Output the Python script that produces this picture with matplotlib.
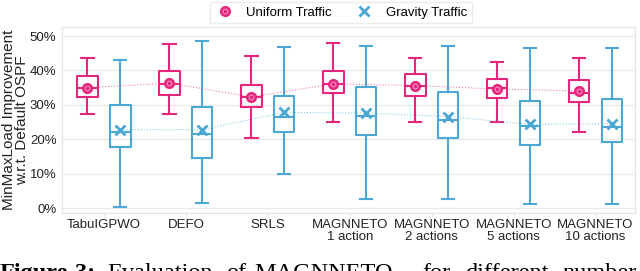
import matplotlib
matplotlib.use("Agg")
import numpy as np
import matplotlib.pyplot as plt
from matplotlib.lines import Line2D
from matplotlib.legend_handler import HandlerTuple

plt.rcParams['font.family'] = ['Liberation Sans', 'DejaVu Sans']

# categories
labels = ['TabuIGPWO', 'DEFO', 'SRLS', 'MAGNNETO\n1 action', 'MAGNNETO\n2 actions',
          'MAGNNETO\n5 actions', 'MAGNNETO\n10 actions']

# uniform traffic: whisker low, q1, median, q3, whisker high, mean  (%)
uni_lo = [27.4, 27.3, 20.5, 24.9, 24.9, 24.9, 22.2]
uni_q1 = [32.2, 33.0, 29.4, 33.3, 32.6, 32.0, 30.7]
uni_med = [35.0, 36.0, 32.3, 36.2, 35.5, 34.8, 33.3]
uni_q3 = [38.3, 39.7, 35.9, 39.8, 38.9, 37.4, 37.3]
uni_hi = [43.5, 47.8, 44.1, 48.0, 43.6, 42.5, 43.5]
uni_mean = [35.0, 36.3, 32.3, 36.1, 35.6, 34.6, 34.0]

# gravity traffic
gra_lo = [0.3, 1.6, 9.8, 2.6, 2.6, 1.2, 1.2]
gra_q1 = [17.8, 14.4, 22.2, 21.2, 20.4, 18.4, 19.2]
gra_med = [22.1, 21.5, 26.4, 26.8, 25.5, 23.9, 23.7]
gra_q3 = [30.0, 29.3, 32.5, 35.3, 33.8, 31.0, 31.7]
gra_hi = [42.9, 48.6, 46.8, 47.0, 47.0, 46.6, 46.6]
gra_mean = [22.8, 22.8, 27.8, 27.6, 26.6, 24.3, 24.5]

# caption words (text is justified in the source, so words are placed one by one)
cap_words = ['Figure', '3:', 'Evaluation', 'of', 'MAGNNETO', 'for', 'different', 'number']
cap_x = [0, 75, 107, 226, 254, 422, 465, 562]
cap_bold = [True, True, False, False, False, False, False, False]

pink = '#e5267c'
blue = '#4ba7d3'

fig = plt.figure(figsize=(6.4, 2.71), dpi=100)
ax = fig.add_axes([0.097, 0.214, 0.895, 0.686])

x = np.arange(len(labels))
off = 0.2
w = 0.25


def stats(lo, q1, med, q3, hi):
    return [dict(whislo=a, q1=b, med=c, q3=d, whishi=e, fliers=[])
            for a, b, c, d, e in zip(lo, q1, med, q3, hi)]


for st, pos, c in [(stats(uni_lo, uni_q1, uni_med, uni_q3, uni_hi), x - off, pink),
                   (stats(gra_lo, gra_q1, gra_med, gra_q3, gra_hi), x + off, blue)]:
    ax.bxp(st, positions=pos, widths=w, showfliers=False, manage_ticks=False,
           boxprops=dict(color=c, linewidth=1.5),
           whiskerprops=dict(color=c, linewidth=1.5),
           capprops=dict(color=c, linewidth=1.5),
           medianprops=dict(color=c, linewidth=1.5),
           capwidths=0.15)

# means + dotted connecting lines
ax.plot(x - off, uni_mean, ':', color=pink, lw=0.8, alpha=0.6, zorder=3)
ax.plot(x + off, gra_mean, ':', color=blue, lw=0.8, alpha=0.6, zorder=3)
ax.plot(x - off, uni_mean, 'o', color=pink, ms=7, zorder=4)
ax.plot(x - off, uni_mean, 'o', mfc='none', mec='#f590bd', mew=0.8, ms=3.4, zorder=5)
ax.plot(x + off, gra_mean, 'x', color=blue, ms=7, mew=2, zorder=4)

ax.set_xlim(-0.51, 6.48)
ax.set_ylim(-1.45, 52.6)
ax.set_yticks([0, 10, 20, 30, 40, 50])
ax.set_yticklabels(['0%', '10%', '20%', '30%', '40%', '50%'])
ax.set_xticks(x)
ax.set_xticklabels(labels, linespacing=1.0)
ax.tick_params(axis='both', labelsize=9.5, colors='#e0e0e0', labelcolor='#222222')
ax.tick_params(axis='x', length=3, pad=1.5)
ax.tick_params(axis='y', length=0, pad=4)
ax.grid(axis='y', color='#ebebeb', lw=1)
ax.set_axisbelow(True)
for s in ax.spines.values():
    s.set_color('#e6e6e6')
    s.set_linewidth(1)
ax.set_ylabel('MinMaxLoad Improvement\nw.r.t. Default OSPF', fontsize=11,
              color='#222222', linespacing=0.95, va='center')
ax.yaxis.set_label_coords(-0.081, 0.5)

h_uni = (Line2D([], [], ls='', marker='o', color=pink, ms=7),
         Line2D([], [], ls='', marker='o', mfc='none', mec='#f590bd', mew=0.8, ms=3.4))
h_gra = Line2D([], [], ls='', marker='x', color=blue, ms=7, mew=2)
fig.legend([h_uni, h_gra], ['Uniform Traffic', 'Gravity Traffic'],
           handler_map={tuple: HandlerTuple(ndivide=1, pad=0)},
           loc='upper center', bbox_to_anchor=(0.533, 1.0), ncol=2, fontsize=9.5,
           frameon=True, edgecolor='#e6e6e6', fancybox=False, borderpad=0.35,
           handlelength=1.5, handletextpad=0.9, columnspacing=1.7, borderaxespad=0.15)

# caption (cut off at the bottom of the image)
for word, px, b in zip(cap_words, cap_x, cap_bold):
    fig.text(px / 640, -0.03, word, fontsize=17.5, family='Liberation Serif',
             fontweight='bold' if b else 'normal', va='baseline', ha='left')

fig.savefig('out.png', dpi=100)
